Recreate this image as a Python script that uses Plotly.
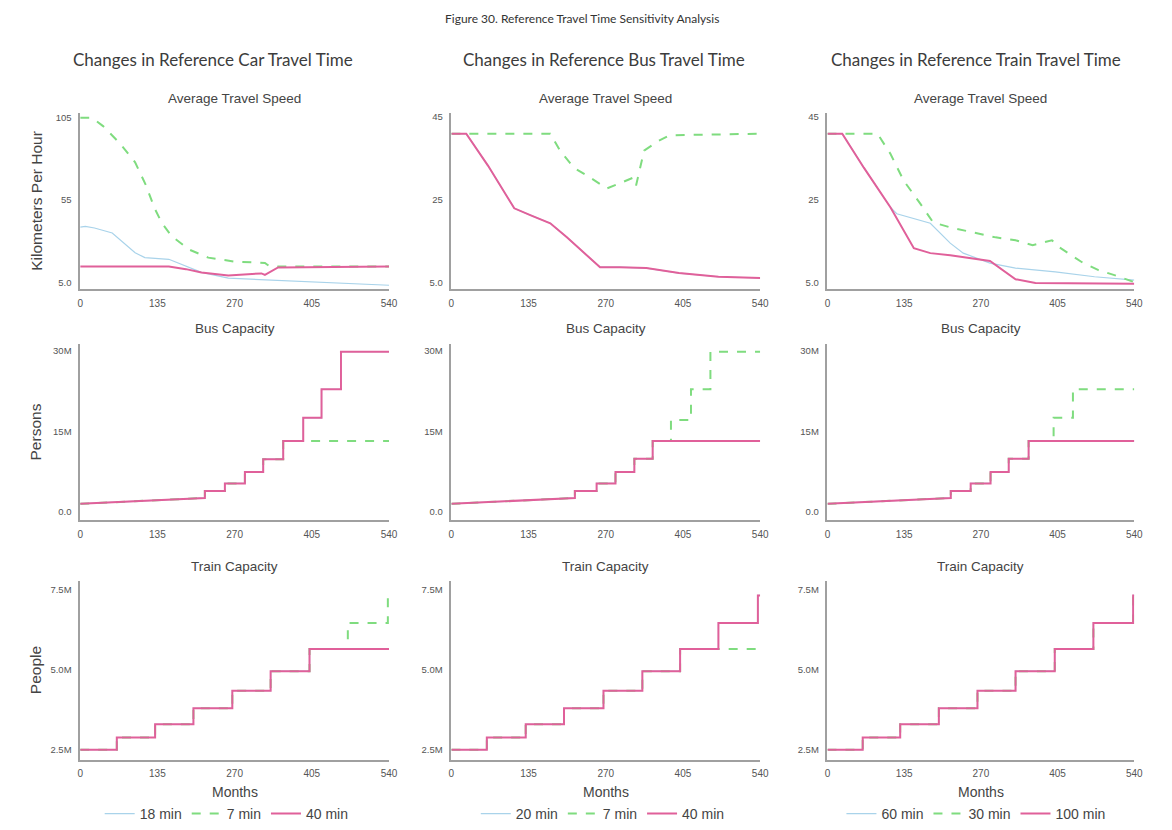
import plotly.graph_objects as go

W, H = 1172, 830

# ---------------- data ----------------
X_TICKS = [0, 135, 270, 405, 540]
X_TICK_TEXT = ["0", "135", "270", "405", "540"]

CAR_TICKS = [5, 55, 105]
CAR_TICK_TEXT = ["5.0", "55", "105"]
SPEED_TICKS = [5, 25, 45]
SPEED_TICK_TEXT = ["5.0", "25", "45"]
BUSCAP_TICKS = [0, 15, 30]
BUSCAP_TICK_TEXT = ["0.0", "15M", "30M"]
TRAINCAP_TICKS = [2.5, 5.0, 7.5]
TRAINCAP_TICK_TEXT = ["2.5M", "5.0M", "7.5M"]

COLUMN_TITLES = ["Changes in Reference Car Travel Time",
                 "Changes in Reference Bus Travel Time",
                 "Changes in Reference Train Travel Time"]
ROW_TITLES = ["Average Travel Speed", "Bus Capacity", "Train Capacity"]
Y_TITLES = ["Kilometers Per Hour", "Persons", "People"]
LEGEND_NAMES = [["18 min", "7 min", "40 min"],
                ["20 min", "7 min", "40 min"],
                ["60 min", "30 min", "100 min"]]

# --- Row 1: Average Travel Speed (km/h) ---
car_speed_18_x = [0, 9, 25, 56, 96, 113, 155, 185, 212, 259, 320, 387, 460, 540]
car_speed_18_y = [38.5, 39, 38, 35, 23, 20, 19, 15, 11, 7.5, 6.5, 5.6, 4.2, 3.2]
car_speed_7_x = [0, 21, 40, 68, 96, 115, 130, 143, 160, 190, 224, 270, 323, 330, 345, 540]
car_speed_7_y = [105, 105, 100, 90, 78, 64, 50, 41, 33, 25, 20, 17.6, 16.8, 15, 14.6, 14.6]
car_speed_40_x = [0, 155, 185, 212, 259, 300, 317, 323, 335, 346, 540]
car_speed_40_y = [14.6, 14.6, 13, 11, 9.2, 10, 10.4, 9.5, 12, 14, 14.6]

bus_speed_20_x = [0, 26, 64, 110, 139, 173, 202, 230, 260, 294, 341, 398, 467, 540]
bus_speed_20_y = [41, 41, 33.3, 23, 21.3, 19.4, 16, 12.5, 8.8, 8.8, 8.6, 7.4, 6.5, 6.2]
bus_speed_7_x = [0, 173, 190, 214, 237, 272, 294, 318, 323, 337, 363, 381, 540]
bus_speed_7_y = [41, 41, 36.9, 32.8, 30.9, 27.8, 29, 30.4, 28.5, 36.9, 39.3, 40.6, 41]
bus_speed_40_x = [0, 26, 64, 110, 139, 173, 202, 230, 260, 294, 341, 398, 467, 540]
bus_speed_40_y = [41, 41, 33.3, 23, 21.3, 19.4, 16, 12.5, 8.8, 8.8, 8.6, 7.4, 6.5, 6.2]

train_speed_60_x = [0, 26, 64, 111, 122, 146, 181, 216, 239, 286, 331, 401, 470, 540]
train_speed_60_y = [41, 41, 32.8, 23.2, 21.7, 20.8, 19.4, 14.6, 12.2, 9.8, 8.6, 7.7, 6.5, 5.7]
train_speed_30_x = [0, 88, 111, 134, 163, 186, 216, 261, 296, 331, 361, 395, 408, 448, 477, 505, 535, 540]
train_speed_30_y = [41, 41, 36.1, 29.7, 24.2, 19.6, 18.4, 17, 16, 15.3, 14.1, 15.3, 13.6, 10, 8.1, 6.9, 5.4, 5.2]
train_speed_100_x = [0, 26, 64, 111, 152, 181, 216, 251, 286, 331, 366, 540]
train_speed_100_y = [41, 41, 32.8, 23.2, 13.4, 12.2, 11.7, 11, 10.3, 5.9, 5.0, 4.8]

# --- Row 2: Bus Capacity (millions of persons) ---
car_buscap_18_x = [0, 218, 218, 253, 253, 288, 288, 320, 320, 355, 355, 390, 390, 422, 422, 456, 456, 540]
car_buscap_18_y = [1.5, 2.6, 3.9, 3.9, 5.3, 5.3, 7.4, 7.4, 9.8, 9.8, 13.2, 13.2, 17.5, 17.5, 22.8, 22.8, 29.8, 29.8]
car_buscap_7_x = [0, 218, 218, 253, 253, 288, 288, 320, 320, 355, 355, 540]
car_buscap_7_y = [1.5, 2.6, 3.9, 3.9, 5.3, 5.3, 7.4, 7.4, 9.8, 9.8, 13.2, 13.2]
car_buscap_40_x = [0, 218, 218, 253, 253, 288, 288, 320, 320, 355, 355, 390, 390, 422, 422, 456, 456, 540]
car_buscap_40_y = [1.5, 2.6, 3.9, 3.9, 5.3, 5.3, 7.4, 7.4, 9.8, 9.8, 13.2, 13.2, 17.5, 17.5, 22.8, 22.8, 29.8, 29.8]

bus_buscap_20_x = [0, 216, 216, 254, 254, 287, 287, 320, 320, 352, 352, 540]
bus_buscap_20_y = [1.5, 2.6, 3.9, 3.9, 5.3, 5.3, 7.4, 7.4, 9.9, 9.9, 13.2, 13.2]
bus_buscap_7_x = [0, 216, 216, 254, 254, 287, 287, 320, 320, 352, 352, 384, 384, 419, 419, 453, 453, 540]
bus_buscap_7_y = [1.5, 2.6, 3.9, 3.9, 5.3, 5.3, 7.4, 7.4, 9.9, 9.9, 13.2, 13.2, 17.1, 17.1, 22.8, 22.8, 29.8, 29.8]
bus_buscap_40_x = [0, 216, 216, 254, 254, 287, 287, 320, 320, 352, 352, 540]
bus_buscap_40_y = [1.5, 2.6, 3.9, 3.9, 5.3, 5.3, 7.4, 7.4, 9.9, 9.9, 13.2, 13.2]

train_buscap_60_x = [0, 217, 217, 252, 252, 287, 287, 319, 319, 354, 354, 540]
train_buscap_60_y = [1.5, 2.6, 3.9, 3.9, 5.3, 5.3, 7.4, 7.4, 9.9, 9.9, 13.2, 13.2]
train_buscap_30_x = [0, 217, 217, 252, 252, 287, 287, 319, 319, 354, 354, 398, 398, 432, 432, 540]
train_buscap_30_y = [1.5, 2.6, 3.9, 3.9, 5.3, 5.3, 7.4, 7.4, 9.9, 9.9, 13.2, 13.2, 17.5, 17.5, 22.8, 22.8]
train_buscap_100_x = [0, 217, 217, 252, 252, 287, 287, 319, 319, 354, 354, 540]
train_buscap_100_y = [1.5, 2.6, 3.9, 3.9, 5.3, 5.3, 7.4, 7.4, 9.9, 9.9, 13.2, 13.2]

# --- Row 3: Train Capacity (millions of people) ---
car_traincap_18_x = [0, 64, 64, 131, 131, 198, 198, 266, 266, 333, 333, 401, 401, 540]
car_traincap_18_y = [2.5, 2.5, 2.88, 2.88, 3.29, 3.29, 3.79, 3.79, 4.34, 4.34, 4.95, 4.95, 5.64, 5.64]
car_traincap_7_x = [0, 64, 64, 131, 131, 198, 198, 266, 266, 333, 333, 401, 401, 468, 468, 538, 538, 540]
car_traincap_7_y = [2.5, 2.5, 2.88, 2.88, 3.29, 3.29, 3.79, 3.79, 4.34, 4.34, 4.95, 4.95, 5.64, 5.64, 6.45, 6.45, 7.31, 7.31]
car_traincap_40_x = [0, 64, 64, 131, 131, 198, 198, 266, 266, 333, 333, 401, 401, 540]
car_traincap_40_y = [2.5, 2.5, 2.88, 2.88, 3.29, 3.29, 3.79, 3.79, 4.34, 4.34, 4.95, 4.95, 5.64, 5.64]

bus_traincap_20_x = [0, 62, 62, 130, 130, 197, 197, 266, 266, 334, 334, 400, 400, 467, 467, 536, 536, 540]
bus_traincap_20_y = [2.5, 2.5, 2.88, 2.88, 3.29, 3.29, 3.79, 3.79, 4.34, 4.34, 4.95, 4.95, 5.64, 5.64, 6.45, 6.45, 7.31, 7.31]
bus_traincap_7_x = [0, 62, 62, 130, 130, 197, 197, 266, 266, 334, 334, 400, 400, 540]
bus_traincap_7_y = [2.5, 2.5, 2.88, 2.88, 3.29, 3.29, 3.79, 3.79, 4.34, 4.34, 4.95, 4.95, 5.64, 5.64]
bus_traincap_40_x = [0, 62, 62, 130, 130, 197, 197, 266, 266, 334, 334, 400, 400, 467, 467, 536, 536, 540]
bus_traincap_40_y = [2.5, 2.5, 2.88, 2.88, 3.29, 3.29, 3.79, 3.79, 4.34, 4.34, 4.95, 4.95, 5.64, 5.64, 6.45, 6.45, 7.31, 7.31]

train_traincap_60_x = [0, 62, 62, 128, 128, 196, 196, 264, 264, 331, 331, 400, 400, 468, 468, 538, 538, 540]
train_traincap_60_y = [2.5, 2.5, 2.88, 2.88, 3.29, 3.29, 3.79, 3.79, 4.34, 4.34, 4.95, 4.95, 5.64, 5.64, 6.45, 6.45, 7.31, 7.31]
train_traincap_30_x = list(train_traincap_60_x)
train_traincap_30_y = list(train_traincap_60_y)
train_traincap_100_x = list(train_traincap_60_x)
train_traincap_100_y = list(train_traincap_60_y)

# ---------------- layout geometry ----------------
COL_PX = [(78, 390), (453, 765), (833, 1143)]
ROW_PX = [(112, 290), (345, 523), (585, 765)]
Y_RANGES = [[[0.8, 108], [3.5, 46], [3.5, 46]],
            [[-1.5, 31.3]] * 3,
            [[2.19, 7.75]] * 3]
Y_TICKS = [[(CAR_TICKS, CAR_TICK_TEXT), (SPEED_TICKS, SPEED_TICK_TEXT), (SPEED_TICKS, SPEED_TICK_TEXT)],
           [(BUSCAP_TICKS, BUSCAP_TICK_TEXT)] * 3,
           [(TRAINCAP_TICKS, TRAINCAP_TICK_TEXT)] * 3]

DATA = [
    [[(car_speed_18_x, car_speed_18_y), (car_speed_7_x, car_speed_7_y), (car_speed_40_x, car_speed_40_y)],
     [(bus_speed_20_x, bus_speed_20_y), (bus_speed_7_x, bus_speed_7_y), (bus_speed_40_x, bus_speed_40_y)],
     [(train_speed_60_x, train_speed_60_y), (train_speed_30_x, train_speed_30_y), (train_speed_100_x, train_speed_100_y)]],
    [[(car_buscap_18_x, car_buscap_18_y), (car_buscap_7_x, car_buscap_7_y), (car_buscap_40_x, car_buscap_40_y)],
     [(bus_buscap_20_x, bus_buscap_20_y), (bus_buscap_7_x, bus_buscap_7_y), (bus_buscap_40_x, bus_buscap_40_y)],
     [(train_buscap_60_x, train_buscap_60_y), (train_buscap_30_x, train_buscap_30_y), (train_buscap_100_x, train_buscap_100_y)]],
    [[(car_traincap_18_x, car_traincap_18_y), (car_traincap_7_x, car_traincap_7_y), (car_traincap_40_x, car_traincap_40_y)],
     [(bus_traincap_20_x, bus_traincap_20_y), (bus_traincap_7_x, bus_traincap_7_y), (bus_traincap_40_x, bus_traincap_40_y)],
     [(train_traincap_60_x, train_traincap_60_y), (train_traincap_30_x, train_traincap_30_y), (train_traincap_100_x, train_traincap_100_y)]],
]

STYLES = [dict(color="#a9d3ea", width=1.2, dash="solid"),
          dict(color="#7fdc7f", width=2, dash="dash"),
          dict(color="#e0609a", width=2, dash="solid")]
DRAW_ORDER = [0, 1, 2]

FONT = "Liberation Sans, Arial, sans-serif"
TITLE_FONT = "Lato, Open Sans, sans-serif"
AXIS_COLOR = "#a0a0a0"
TEXT_COLOR = "#555555"

fig = go.Figure()
layout = dict(width=W, height=H, margin=dict(l=0, r=0, t=0, b=0),
              paper_bgcolor="white", plot_bgcolor="white", showlegend=True)
annotations = []
legend_names = ["legend", "legend2", "legend3"]
legend_cx = [226, 606, 983]

idx = 0
for r in range(3):
    for c in range(3):
        idx += 1
        xa = "x" if idx == 1 else f"x{idx}"
        ya = "y" if idx == 1 else f"y{idx}"
        x0, x1 = COL_PX[c]
        t0, t1 = ROW_PX[r]
        layout["xaxis" if idx == 1 else f"xaxis{idx}"] = dict(
            domain=[x0 / W, x1 / W], range=[0, 540], anchor=ya,
            tickvals=X_TICKS, ticktext=X_TICK_TEXT, showgrid=False, zeroline=False,
            showline=True, linecolor=AXIS_COLOR, linewidth=1.5, ticks="outside",
            ticklen=4, tickcolor="rgba(0,0,0,0)",
            tickfont=dict(family=FONT, size=10, color=TEXT_COLOR))
        tv, tt = Y_TICKS[r][c]
        layout["yaxis" if idx == 1 else f"yaxis{idx}"] = dict(
            domain=[1 - t1 / H, 1 - t0 / H], range=Y_RANGES[r][c], anchor=xa,
            tickvals=tv, ticktext=tt, showgrid=False, zeroline=False,
            showline=True, linecolor=AXIS_COLOR, linewidth=1.5, ticks="outside",
            ticklen=5, tickcolor="rgba(0,0,0,0)",
            tickfont=dict(family=FONT, size=9.5, color=TEXT_COLOR))
        for s in DRAW_ORDER:
            xs, ys = DATA[r][c][s]
            fig.add_trace(go.Scatter(
                x=xs, y=ys, mode="lines", xaxis=xa, yaxis=ya,
                line=dict(color=STYLES[s]["color"], width=STYLES[s]["width"], dash=STYLES[s]["dash"]),
                name=LEGEND_NAMES[c][s], legend=legend_names[c],
                showlegend=(r == 0), hoverinfo="skip"))
        # subplot title
        annotations.append(dict(text=ROW_TITLES[r], x=(x0 + x1) / 2 / W, y=1 - (t0 - 15) / H,
                                xref="paper", yref="paper", showarrow=False,
                                xanchor="center", yanchor="middle",
                                font=dict(family=FONT, size=13.5, color="#444444")))

# column titles
col_title_cx = [212, 607, 983]
for c in range(3):
    annotations.append(dict(text=COLUMN_TITLES[c], x=col_title_cx[c] / W, y=1 - 58 / H,
                            xref="paper", yref="paper", showarrow=False,
                            xanchor="center", yanchor="middle",
                            font=dict(family=TITLE_FONT, size=17, color="#3c3c3c")))
    annotations.append(dict(text="Months", x=(COL_PX[c][0] + COL_PX[c][1]) / 2 / W, y=1 - 798 / H,
                            xref="paper", yref="paper", showarrow=False,
                            xanchor="center", yanchor="middle",
                            font=dict(family=FONT, size=14, color="#444444")))

# y titles
for r in range(3):
    annotations.append(dict(text=Y_TITLES[r], x=33 / W, y=1 - (ROW_PX[r][0] + ROW_PX[r][1]) / 2 / H,
                            xref="paper", yref="paper", showarrow=False, textangle=-90,
                            xanchor="center", yanchor="middle",
                            font=dict(family=FONT, size=15.5, color="#444444")))

# main title
annotations.append(dict(text="Figure 30. Reference Travel Time Sensitivity Analysis",
                        x=585 / W, y=1 - 17 / H, xref="paper", yref="paper", showarrow=False,
                        xanchor="center", yanchor="middle",
                        font=dict(family=TITLE_FONT, size=12, color="#333333")))

layout["annotations"] = annotations
for i, ln in enumerate(legend_names):
    layout[ln] = dict(orientation="h", x=legend_cx[i] / W, y=1 - 820 / H,
                      xanchor="center", yanchor="middle", bgcolor="rgba(0,0,0,0)",
                      font=dict(family=FONT, size=14, color="#444444"),
                      itemwidth=30, tracegroupgap=0)

fig.update_layout(**layout)
fig.write_html("out.html")
